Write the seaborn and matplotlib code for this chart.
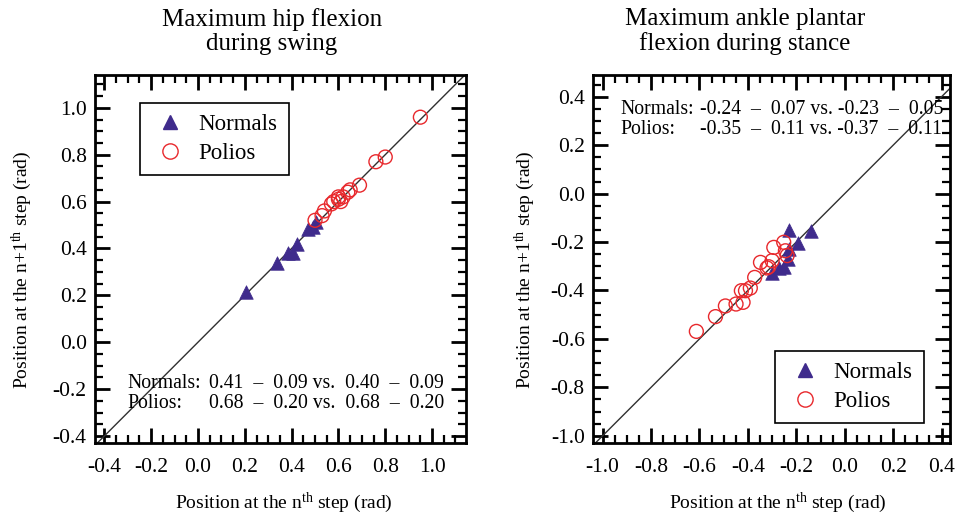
import numpy as np
import pandas as pd
import matplotlib
matplotlib.use("Agg")
import matplotlib.pyplot as plt
from matplotlib.lines import Line2D
from matplotlib.ticker import MultipleLocator
import seaborn as sns

# ---- data ----
hip_normals_x = [0.205, 0.336, 0.386, 0.405, 0.422, 0.471, 0.493, 0.503]
hip_normals_y = [0.216, 0.336, 0.379, 0.382, 0.421, 0.484, 0.492, 0.514]
hip_polios_x = [0.50, 0.53, 0.54, 0.57, 0.58, 0.60, 0.60, 0.61, 0.62, 0.64, 0.65, 0.69, 0.76, 0.80, 0.95]
hip_polios_y = [0.52, 0.54, 0.56, 0.59, 0.60, 0.61, 0.62, 0.60, 0.62, 0.64, 0.65, 0.67, 0.77, 0.79, 0.96]

ank_normals_x = [-0.231, -0.139, -0.193, -0.231, -0.234, -0.252, -0.273, -0.300]
ank_normals_y = [-0.150, -0.153, -0.205, -0.229, -0.270, -0.302, -0.307, -0.329]
ank_polios_x = [-0.613, -0.534, -0.493, -0.449, -0.420, -0.427, -0.410, -0.390, -0.372,
                -0.348, -0.321, -0.314, -0.300, -0.293, -0.252, -0.245, -0.238]
ank_polios_y = [-0.569, -0.508, -0.464, -0.456, -0.449, -0.401, -0.401, -0.390, -0.346,
                -0.284, -0.307, -0.302, -0.277, -0.222, -0.201, -0.236, -0.256]

titles = ["Maximum hip flexion\nduring swing", "Maximum ankle plantar\nflexion during stance"]
hip_stats = [("Normals:", "0.41  \u2013  0.09 vs.  0.40  \u2013  0.09"),
             ("Polios:", "0.68  \u2013  0.20 vs.  0.68  \u2013  0.20")]
ank_stats = [("Normals:", "-0.24  \u2013  0.07 vs. -0.23  \u2013  0.05"),
             ("Polios:", "-0.35  \u2013  0.11 vs. -0.37  \u2013  0.11")]
hip_ticks = [-0.4, -0.2, 0.0, 0.2, 0.4, 0.6, 0.8, 1.0]
ank_ticks = [-1.0, -0.8, -0.6, -0.4, -0.2, 0.0, 0.2, 0.4]
xlabel_text = r"Position at the $\mathregular{n^{th}}$ step (rad)"
ylabel_text = r"Position at the $\mathregular{n{+}1^{th}}$ step (rad)"

NORMAL_C = "#3f2b8c"
POLIO_C = "#e8282c"
FAM = ["Liberation Serif", "DejaVu Serif"]

sns.set_theme(style="white")
plt.rcParams["font.family"] = FAM
plt.rcParams["mathtext.fontset"] = "custom"
plt.rcParams["mathtext.rm"] = "Liberation Serif"
for k in ("text.color", "axes.labelcolor", "xtick.color", "ytick.color", "axes.edgecolor"):
    plt.rcParams[k] = "black"

W, H = 958, 514
fig = plt.figure(figsize=(W / 100, H / 100), dpi=100)

def px_axes(l, t, r, b):
    return fig.add_axes([l / W, 1 - b / H, (r - l) / W, (b - t) / H])

ax1 = px_axes(95, 75, 466, 443)
ax2 = px_axes(593, 75, 950, 443)

def make_df(nx, ny, px, py):
    return pd.DataFrame({
        "x": list(nx) + list(px),
        "y": list(ny) + list(py),
        "group": ["Normals"] * len(nx) + ["Polios"] * len(px),
    })

def draw(ax, df, xlim, ylim, ticks):
    ax.plot([-2, 2], [-2, 2], color="#303030", lw=1.0, zorder=1)
    n = df[df.group == "Normals"]
    p = df[df.group == "Polios"]
    sns.scatterplot(data=p, x="x", y="y", ax=ax, marker="o", s=100,
                    facecolors="none", edgecolor=POLIO_C, linewidth=1.0, zorder=3, legend=False)
    sns.scatterplot(data=n, x="x", y="y", ax=ax, marker="^", s=95,
                    color=NORMAL_C, edgecolor=NORMAL_C, linewidth=0.5, zorder=2, legend=False)
    ax.set_xlim(*xlim)
    ax.set_ylim(*ylim)
    ax.set_xticks(ticks)
    ax.set_yticks(ticks)
    ax.set_xticklabels([f"{t:.1f}" for t in ticks], fontfamily=FAM, fontsize=15.5)
    ax.set_yticklabels([f"{t:.1f}" for t in ticks], fontfamily=FAM, fontsize=15.5)
    ax.xaxis.set_minor_locator(MultipleLocator(0.05))
    ax.yaxis.set_minor_locator(MultipleLocator(0.05))
    ax.tick_params(which="both", direction="in", top=True, right=True, bottom=True, left=True,
                   colors="black")
    ax.tick_params(which="major", length=11, width=2)
    ax.tick_params(axis="x", which="major", pad=11)
    ax.tick_params(axis="y", which="major", pad=6)
    ax.tick_params(which="minor", length=6, width=1.6)
    for s in ax.spines.values():
        s.set_linewidth(2)
        s.set_color("black")
    ax.set_xlabel("")
    ax.set_ylabel("")

df1 = make_df(hip_normals_x, hip_normals_y, hip_polios_x, hip_polios_y)
df2 = make_df(ank_normals_x, ank_normals_y, ank_polios_x, ank_polios_y)
draw(ax1, df1, (-0.44, 1.145), (-0.43, 1.14), hip_ticks)
draw(ax2, df2, (-1.04, 0.435), (-1.03, 0.49), ank_ticks)

# axis labels
for cx in (284, 778):
    fig.text(cx / W, 1 - 508 / H, xlabel_text, ha="center", va="baseline",
             fontsize=14, fontfamily=FAM)
for cx in (22, 525):
    fig.text(cx / W, 1 - 270 / H, ylabel_text, ha="center", va="center", rotation=90,
             fontsize=14, fontfamily=FAM)

handles = [Line2D([], [], ls="none", marker="^", ms=10.5, color=NORMAL_C, label="Normals"),
           Line2D([], [], ls="none", marker="o", ms=11, mfc="none", mec=POLIO_C, mew=1.0, label="Polios")]
for ax, loc in ((ax1, (0.1213, 0.728)), (ax2, (0.509, 0.054))):
    leg = ax.legend(handles=handles, loc="lower left", bbox_to_anchor=loc,
                    prop={"family": FAM, "size": 16.5},
                    frameon=True, fancybox=False, framealpha=1, edgecolor="black",
                    borderpad=0.5, handletextpad=0.45, labelspacing=0.32, handlelength=1.6,
                    borderaxespad=0)
    leg.get_frame().set_linewidth(1.2)

# titles
fig.text(272 / W, 1 - 8 / H, titles[0], ha="center", va="top", fontsize=18,
         linespacing=1.1, fontfamily=FAM)
fig.text(745 / W, 1 - 8 / H, titles[1], ha="center", va="top", fontsize=18,
         linespacing=1.1, fontfamily=FAM)

# statistics text
def stats(rows, x0, x1, y0, dy):
    for i, (lab, val) in enumerate(rows):
        y = 1 - (y0 + i * dy) / H
        fig.text(x0 / W, y, lab, ha="left", va="center", fontsize=14.2, fontfamily=FAM)
        fig.text(x1 / W, y, val, ha="left", va="center", fontsize=14.2, fontfamily=FAM)

stats(hip_stats, 127, 209, 383, 20)
stats(ank_stats, 620, 700, 110, 19)

fig.savefig("out.png", dpi=100)
